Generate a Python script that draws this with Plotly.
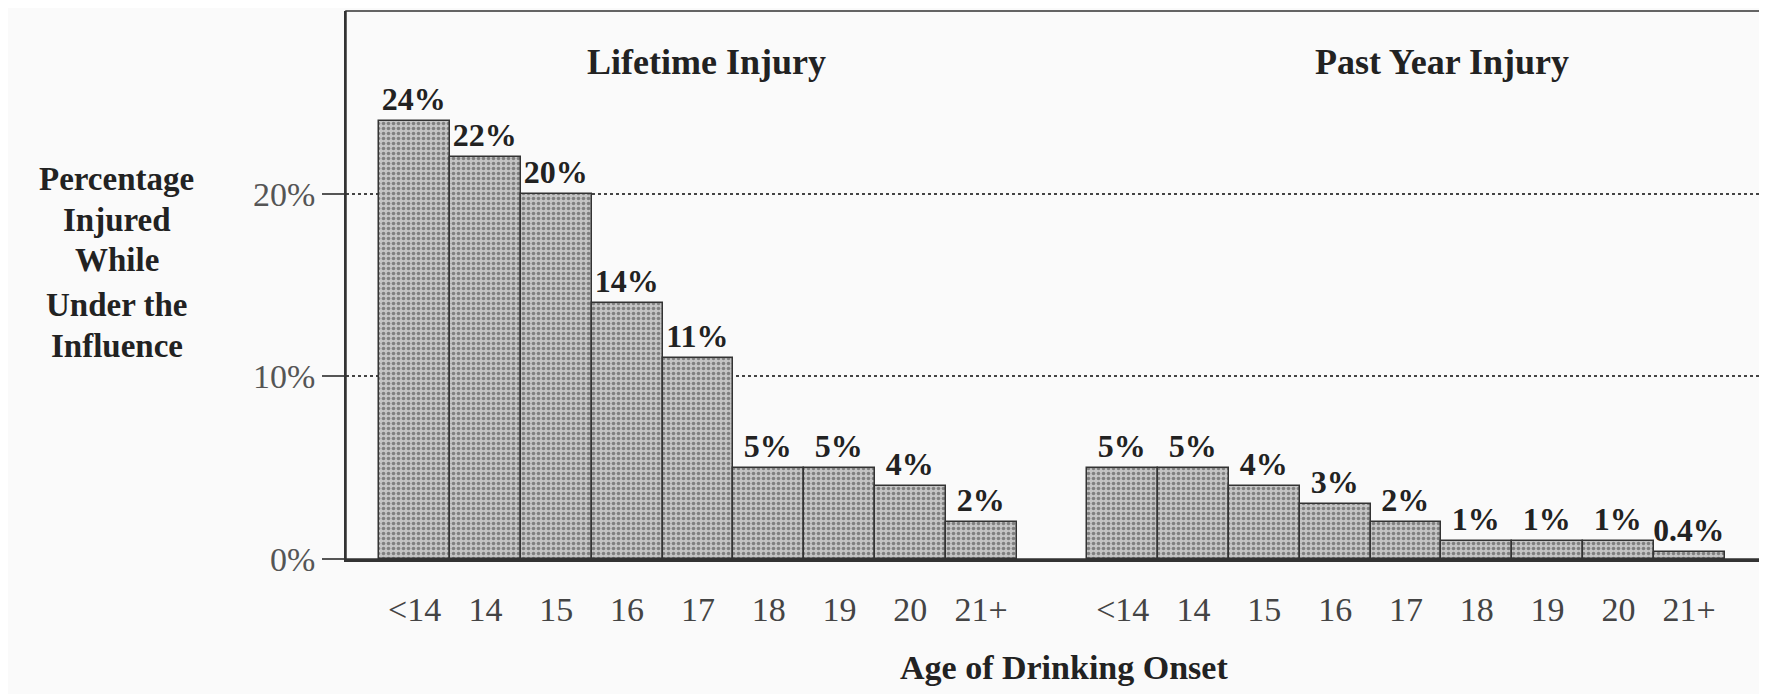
import plotly.graph_objects as go

ages = ["<14", "14", "15", "16", "17", "18", "19", "20", "21+"]
lifetime = [24, 22, 20, 14, 11, 5, 5, 4, 2]
past_year = [5, 5, 4, 3, 2, 1, 1, 1, 0.4]
y_ticks = [0, 10, 20]
y_tick_labels = ["0%", "10%", "20%"]
panel_titles = ["Lifetime Injury", "Past Year Injury"]
y_title_lines = ["Percentage", "Injured", "While", "Under the", "Influence"]
x_title = "Age of Drinking Onset"

SERIF = "Liberation Serif"
gap = 1
x_life = list(range(len(ages)))
x_past = [len(ages) + gap + i for i in range(len(ages))]

def fmt(v):
    return f"{v:g}%"

bar_style = dict(
    marker=dict(
        color="#bdbdbd",
        line=dict(color="#333333", width=1.5),
        pattern=dict(shape=".", fgcolor="#3a3a3a", bgcolor="#c4c4c4", size=5, solidity=0.4),
    ),
    textposition="outside",
    textfont=dict(family=SERIF, size=32, color="#222222", weight="bold"),
    cliponaxis=False,
    showlegend=False,
    width=1.0,
)

fig = go.Figure()
fig.add_trace(go.Bar(x=x_life, y=lifetime, text=[fmt(v) for v in lifetime], **bar_style))
fig.add_trace(go.Bar(x=x_past, y=past_year, text=[fmt(v) for v in past_year], **bar_style))

# page body has an 8px margin: figure is placed at (8, 8)
PLOT_TOP = 3
PLOT_H = 548
fig.update_layout(
    width=1759, height=686,
    margin=dict(l=338, r=7, t=PLOT_TOP, b=686 - PLOT_TOP - PLOT_H),
    paper_bgcolor="#fafafa", plot_bgcolor="#fafafa",
    bargap=0,
    font=dict(family=SERIF, color="#444444"),
)

fig.update_xaxes(
    range=[-0.97, 19.0],
    tickvals=x_life + x_past,
    ticktext=ages + ages,
    tickfont=dict(family=SERIF, size=34, color="#444444"),
    ticks="", ticklabelstandoff=18,
    showgrid=False, zeroline=False,
    showline=True, linecolor="#333333", linewidth=3,
)
fig.update_yaxes(
    range=[0, 30],
    tickvals=y_ticks, ticktext=y_tick_labels,
    tickfont=dict(family=SERIF, size=34, color="#555555"),
    ticks="outside", ticklen=22, tickcolor="#555555", tickwidth=1.5,
    showgrid=True, gridcolor="#444444", gridwidth=1.5, griddash="dot",
    zeroline=False,
    showline=True, linecolor="#333333", linewidth=1.5,
)

# frame
fig.add_shape(type="rect", xref="paper", yref="paper", x0=0, x1=1, y0=0, y1=1,
              line=dict(color="#333333", width=1.5), layer="above")

def py(pix):
    # pixel row in the screenshot -> paper coordinate
    return (8 + PLOT_TOP + PLOT_H - pix) / PLOT_H

# panel titles
for txt, xp in zip(panel_titles, [0.255, 0.775]):
    fig.add_annotation(text=txt, xref="paper", yref="paper", x=xp, y=py(62),
                       showarrow=False, xanchor="center", yanchor="middle",
                       font=dict(family=SERIF, size=36, color="#222222", weight="bold"))

# y title lines
y_px = [179, 220, 260, 305, 346]
for txt, yp in zip(y_title_lines, y_px):
    fig.add_annotation(text=txt, xref="paper", yref="paper", x=-0.162, y=py(yp),
                       showarrow=False, xanchor="center", yanchor="middle",
                       font=dict(family=SERIF, size=33, color="#222222", weight="bold"))

# x title
fig.add_annotation(text=x_title, xref="paper", yref="paper", x=0.508, y=py(667),
                   showarrow=False, xanchor="center", yanchor="middle",
                   font=dict(family=SERIF, size=34, color="#222222", weight="bold"))

fig.write_html("out.html")
